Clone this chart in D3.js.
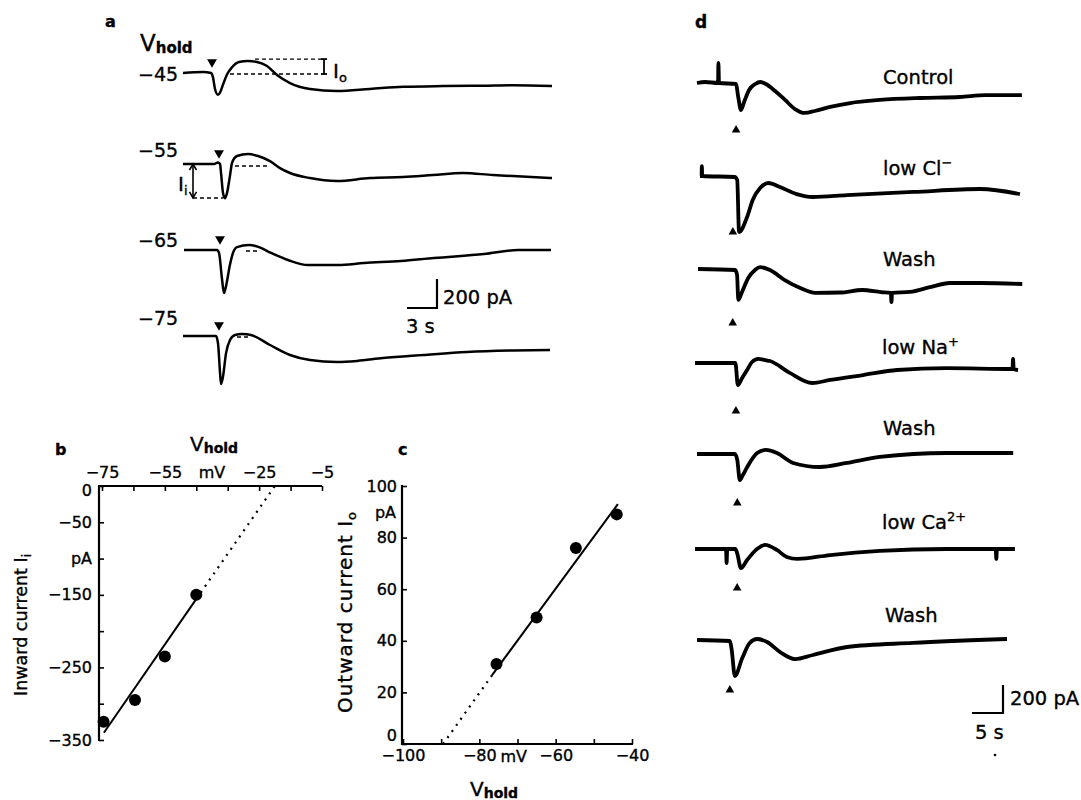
<!DOCTYPE html>
<html><head><meta charset="utf-8">
<script src="https://cdn.jsdelivr.net/npm/d3@7"></script>
<style>
body{margin:0;background:#fff;}
svg text{font-family:"DejaVu Sans",sans-serif;fill:#000;stroke:#000;stroke-width:0.35px;}
</style></head><body>
<svg id="chart" width="1081" height="800"></svg>
<script>
// ---------------- DATA ----------------
// Panel a: holding potentials and current traces [time s, current pA]
const holdLabels = ["−45", "−55", "−65", "−75"];
const traceHold45 = [[0,0],[2.0,7],[2.8,0],[3.0,-30],[3.2,-110],[3.5,-150],[3.7,-135],[4.0,-80],[4.4,-10],[4.9,40],[5.6,76],[6.5,83],[7.4,76],[8.4,48],[9.4,-14],[10.7,-69],[12.7,-110],[15.4,-124],[18.7,-110],[22,-95],[26,-90],[30,-88],[33,-85],[36.9,-90]];
const traceHold55 = [[0,0],[3.1,0],[3.5,10],[3.7,0],[3.8,-60],[4.0,-200],[4.2,-236],[4.4,-200],[4.7,-80],[4.9,7],[5.4,55],[6.5,69],[7.5,55],[8.7,20],[9.7,-28],[10.7,-62],[12.7,-97],[15.4,-117],[18.7,-97],[22,-90],[25,-76],[28,-62],[31,-76],[33,-83],[36.9,-97]];
const traceHold65 = [[0,0],[3.3,0],[3.5,-20],[3.8,-200],[4.0,-297],[4.2,-250],[4.6,-100],[4.9,-20],[5.3,20],[6.5,35],[7.5,20],[8.7,-20],[10.4,-69],[12.4,-104],[15.4,-104],[18,-90],[21.7,-76],[25,-55],[30,-28],[33.4,0],[36.7,0]];
const traceHold75 = [[0,0],[3.3,0],[3.5,-50],[3.7,-250],[3.8,-331],[4.0,-280],[4.3,-120],[4.7,-28],[5.2,7],[5.9,14],[6.8,7],[8.7,-62],[10.7,-131],[12.7,-166],[15.4,-179],[17.4,-172],[20,-152],[24,-131],[28.4,-110],[33,-100],[36.7,-97]];
const stimTimesA = [2.9, 3.6, 3.6, 3.6];
// dashed reference levels [tStart, tEnd, pA]
const dashesHold45 = [[7.2,13.9,96],[4.7,13.9,-7]];
const dashesHold55 = [[5.2,8.7,-14],[1.0,4.0,-234]];
const dashesHold65 = [[6.2,7.5,-7]];
const dashesHold75 = [[5.4,6.7,-7]];
const ioBracket = [14.1, -7, 96];   // time, low, high (pA)
const iiArrow = [1.0, -234, 0];     // time, low, high (pA)
const scaleBarA = [3, 200];         // s, pA

// Panel b: inward current vs V_hold
const bVhold = [-74.5, -64.5, -55, -45];
const bInward = [-325, -295, -235, -150];
const bFitSolid = [[-74.4,-340],[-43.6,-147]];
const bFitDotted = [[-43.6,-147],[-20,0]];
const bXTicks = [-75,-65,-55,-45,-35,-25,-15,-5];
const bXTickLabels = {"-75":"−75","-55":"−55","-25":"−25","-5":"−5"};
const bYTicks = [0,-50,-100,-150,-200,-250,-300,-350];
const bYTickLabels = {"0":"0","-50":"−50","-100":"pA","-150":"−150","-250":"−250","-350":"−350"};

// Panel c: outward current vs V_hold
const cVhold = [-75.5, -65, -54.7, -44];
const cOutward = [31, 49, 76, 89];
const cFitSolid = [[-76.7,26.6],[-43.7,93]];
const cFitDotted = [[-89.5,0],[-76.7,26.6]];
const cXTicks = [-100,-90,-80,-70,-60,-50,-40];
const cXTickLabels = {"-100":"−100","-80":"−80","-60":"−60","-40":"−40"};
const cYTicks = [0,20,40,60,80,100];

// Panel d: conditions and traces [time s, current pA]
const dConditions = [["Control",""],["low Cl","−"],["Wash",""],["low Na","+"],["Wash",""],["low Ca","2+"],["Wash",""]];
const dControl = [[0,0],[1.3,7],[3.4,0],[3.45,143],[3.55,0],[6.3,-7],[6.6,-86],[7.1,-193],[7.6,-136],[8.4,-50],[9.4,-7],[10.2,7],[11.1,-7],[12.6,-57],[14.2,-121],[15.8,-186],[17.4,-214],[19.0,-200],[21.5,-171],[24.7,-143],[29.5,-121],[36.0,-107],[42.4,-100],[46.5,-86],[52.4,-86]];
const dLowCl = [[0,0],[0.25,0],[0.3,71],[0.35,0],[5.6,-7],[6.0,-29],[6.3,-400],[7.6,-293],[8.5,-171],[9.7,-86],[11.0,-50],[12.9,-79],[15.6,-129],[18.2,-150],[23.7,-136],[34.4,-114],[45.2,-93],[51.6,-129]];
const dWash1 = [[0,0],[6.0,-7],[6.3,-43],[6.5,-221],[7.1,-164],[8.1,-64],[9.2,-7],[10.0,14],[11.6,-7],[14.0,-79],[16.5,-136],[18.9,-170],[22.9,-168],[26.5,-150],[29.5,-165],[31.1,-171],[31.2,-236],[31.3,-171],[34.2,-164],[37.4,-130],[40.6,-100],[45.5,-100],[52.3,-107]];
const dLowNa = [[0,0],[6.5,0],[6.6,-21],[6.9,-157],[7.6,-107],[8.4,-50],[9.2,7],[10.2,29],[11.3,21],[12.1,14],[15.3,-71],[18.9,-143],[21.8,-121],[27.1,-86],[32.6,-50],[40.6,-36],[51.2,-43],[51.3,29],[51.4,-43],[52.1,-50]];
const dWash2 = [[0,0],[6.1,0],[6.5,-43],[6.9,-186],[7.4,-150],[8.1,-93],[9.7,7],[11.1,29],[12.9,7],[15.5,-64],[19.8,-93],[24.2,-64],[29.5,-21],[40.3,7],[51.0,7]];
const dLowCa = [[0,0],[5.0,0],[5.1,-100],[5.2,0],[6.5,0],[6.8,-29],[7.4,-136],[8.4,-79],[10.0,0],[11.3,29],[13.2,-7],[14.8,-57],[16.5,-71],[21.8,-43],[29.8,-14],[40.6,0],[48.5,0],[48.6,-71],[48.7,0],[51.6,0]];
const dWash3 = [[0,0],[5.3,-7],[5.6,-71],[6.1,-257],[7.3,-129],[8.5,-21],[9.7,7],[11.3,-14],[13.4,-86],[15.8,-136],[18.7,-107],[24.2,-50],[34.8,-21],[50.0,7]];
const stimTimesD = [6.3, 5.3, 5.6, 6.6, 6.5, 6.8, 5.3];
const scaleBarD = [5, 200];

// ---------------- LAYOUT ----------------
const svg = d3.select("#chart");
const FONT = '"DejaVu Sans", sans-serif';

function label(g, x, y, txt, size, opts = {}) {
  const t = g.append("text").attr("x", x).attr("y", y)
    .attr("font-size", size).text(txt);
  if (opts.anchor) t.attr("text-anchor", opts.anchor);
  if (opts.bold) t.attr("font-weight", "bold");
  return t;
}
function vhold(g, x, y, vSize, hSize) {
  const t = g.append("text").attr("x", x).attr("y", y);
  t.append("tspan").attr("font-size", vSize).text("V");
  t.append("tspan").attr("font-size", hSize).attr("font-weight", "bold").attr("dy", 2).text("hold");
  return t;
}

// ===== Panel a =====
const gA = svg.append("g");
label(gA, 105, 27, "a", 16, {bold: true});
vhold(gA, 140, 51, 23, 15);

const xA = d3.scaleLinear().domain([0, 37]).range([0, 370]);
const yA = d3.scaleLinear().domain([0, 200]).range([0, -29]);
const lineA = d3.line().x(d => xA(d[0])).y(d => yA(d[1])).curve(d3.curveMonotoneX);
const tracesA = [traceHold45, traceHold55, traceHold65, traceHold75];
const dashesA = [dashesHold45, dashesHold55, dashesHold65, dashesHold75];
const originA = [[183,73],[183,164],[184,250],[183,336]];
const holdLabelY = [81, 157, 247, 325];

tracesA.forEach((tr, i) => {
  const g = gA.append("g").attr("transform", `translate(${originA[i][0]},${originA[i][1]})`);
  g.append("path").datum(tr).attr("d", lineA)
    .attr("fill", "none").attr("stroke", "#000").attr("stroke-width", 2.5)
    .attr("stroke-linejoin", "round");
  g.selectAll("line.dash").data(dashesA[i]).join("line")
    .attr("x1", d => xA(d[0])).attr("x2", d => xA(d[1]))
    .attr("y1", d => yA(d[2])).attr("y2", d => yA(d[2]))
    .attr("stroke", "#000").attr("stroke-width", 1.4).attr("stroke-dasharray", "4,3");
  g.append("path")
    .attr("d", d3.symbol(d3.symbolTriangle, 42)())
    .attr("transform", `translate(${xA(stimTimesA[i])},${-11}) rotate(180)`)
    .attr("fill", "#000");
  label(gA, 138, holdLabelY[i], holdLabels[i], 19);
});

// Io bracket
{
  const g = gA.append("g").attr("transform", `translate(${originA[0][0]},${originA[0][1]})`);
  const bx = xA(ioBracket[0]);
  const y1 = yA(ioBracket[1]), y2 = yA(ioBracket[2]);
  g.append("line").attr("x1", bx).attr("x2", bx).attr("y1", y1).attr("y2", y2).attr("stroke", "#000").attr("stroke-width", 1.8);
  [y1, y2].forEach(y => g.append("line").attr("x1", bx - 3).attr("x2", bx + 3).attr("y1", y).attr("y2", y).attr("stroke", "#000").attr("stroke-width", 1.8));
  const t = g.append("text").attr("x", bx + 9).attr("y", 5).attr("font-size", 20);
  t.append("tspan").text("I");
  t.append("tspan").attr("font-size", 13).attr("dy", 4).text("o");
}
// Ii arrow
{
  const g = gA.append("g").attr("transform", `translate(${originA[1][0]},${originA[1][1]})`);
  const ax = xA(iiArrow[0]);
  const y1 = yA(iiArrow[1]), y2 = yA(iiArrow[2]);
  g.append("line").attr("x1", ax).attr("x2", ax).attr("y1", y1).attr("y2", y2).attr("stroke", "#000").attr("stroke-width", 1.6);
  g.append("path").attr("d", `M${ax-3.5},${y2+6}L${ax},${y2}L${ax+3.5},${y2+6}`).attr("fill", "none").attr("stroke", "#000").attr("stroke-width", 1.6);
  g.append("path").attr("d", `M${ax-3.5},${y1-6}L${ax},${y1}L${ax+3.5},${y1-6}`).attr("fill", "none").attr("stroke", "#000").attr("stroke-width", 1.6);
  const t = g.append("text").attr("x", -5).attr("y", 27).attr("font-size", 20);
  t.append("tspan").text("I");
  t.append("tspan").attr("font-size", 13).attr("dy", 4).text("i");
}
// scale bar a
{
  const cx = 437, cy = 308;
  gA.append("path")
    .attr("d", `M${cx - xA(scaleBarA[0])},${cy}L${cx},${cy}L${cx},${cy + yA(scaleBarA[1])}`)
    .attr("fill", "none").attr("stroke", "#000").attr("stroke-width", 2.2);
  label(gA, 443, 304, "200 pA", 19.5);
  label(gA, 406, 333, "3 s", 19.5);
}

// ===== Panel b =====
const gB = svg.append("g");
label(gB, 55, 455, "b", 16, {bold: true});
vhold(gB, 190, 451, 20, 14);
const xB = d3.scaleLinear().domain([-75, -5]).range([102, 322]);
const yB = d3.scaleLinear().domain([0, -350]).range([486, 740]);

const axTopB = gB.append("g").attr("transform", "translate(0,486)")
  .call(d3.axisTop(xB).tickValues(bXTicks).tickSizeInner(-5).tickSizeOuter(0).tickPadding(8)
    .tickFormat(d => bXTickLabels[String(d)] || ""));
const axLeftB = gB.append("g").attr("transform", "translate(99,0)")
  .call(d3.axisLeft(yB).tickValues(bYTicks).tickSizeInner(-5).tickSizeOuter(0).tickPadding(7)
    .tickFormat(d => bYTickLabels[String(d)] || ""));
[axTopB, axLeftB].forEach(ax => {
  ax.attr("font-family", null).attr("font-size", null);
  ax.select(".domain").remove();
  ax.selectAll("text").attr("font-size", 16).attr("font-family", FONT);
  ax.selectAll(".tick line").attr("stroke-width", 1.6);
});
axLeftB.selectAll(".tick text").filter(d => d === 0).attr("dy", "0.62em");
gB.append("line").attr("x1", 99).attr("x2", 322).attr("y1", 486).attr("y2", 486).attr("stroke", "#000").attr("stroke-width", 2.2);
gB.append("line").attr("x1", 99).attr("x2", 99).attr("y1", 485).attr("y2", 741).attr("stroke", "#000").attr("stroke-width", 2.2);
label(gB, xB(-40), 478, "mV", 16, {anchor: "middle"});

const lineB = d3.line().x(d => xB(d[0])).y(d => yB(d[1]));
gB.append("path").datum(bFitSolid).attr("d", lineB).attr("stroke", "#000").attr("stroke-width", 2).attr("fill", "none");
gB.append("path").datum(bFitDotted).attr("d", lineB).attr("stroke", "#000").attr("stroke-width", 2.2).attr("stroke-dasharray", "2,5.5").attr("fill", "none");
gB.selectAll("circle.pt").data(bVhold).join("circle")
  .attr("cx", d => xB(d)).attr("cy", (d, i) => yB(bInward[i])).attr("r", 6).attr("fill", "#000");
{
  const t = gB.append("text").attr("transform", "translate(27,625) rotate(-90)")
    .attr("text-anchor", "middle").attr("font-size", 17.5);
  t.append("tspan").text("Inward current I");
  t.append("tspan").attr("font-size", 12).attr("dy", 4).text("i");
}

// ===== Panel c =====
const gC = svg.append("g");
label(gC, 398, 455, "c", 16, {bold: true});
vhold(gC, 470, 796, 20, 14);
const xC = d3.scaleLinear().domain([-100, -40]).range([403, 632]);
const yC = d3.scaleLinear().domain([0, 100]).range([744, 486]);
const axBotC = gC.append("g").attr("transform", "translate(0,744)")
  .call(d3.axisBottom(xC).tickValues(cXTicks).tickSizeInner(-5).tickSizeOuter(0).tickPadding(6)
    .tickFormat(d => cXTickLabels[String(d)] || ""));
const axLeftC = gC.append("g").attr("transform", "translate(402,0)")
  .call(d3.axisLeft(yC).tickValues(cYTicks).tickSizeInner(-5).tickSizeOuter(0).tickPadding(5)
    .tickFormat(d3.format("d")));
[axBotC, axLeftC].forEach(ax => {
  ax.attr("font-family", null).attr("font-size", null);
  ax.select(".domain").remove();
  ax.selectAll("text").attr("font-size", 16).attr("font-family", FONT);
  ax.selectAll(".tick line").attr("stroke-width", 1.6);
});
axLeftC.selectAll(".tick text").filter(d => d === 0).attr("dy", "-0.2em");
gC.append("line").attr("x1", 401).attr("x2", 633).attr("y1", 744).attr("y2", 744).attr("stroke", "#000").attr("stroke-width", 2.2);
gC.append("line").attr("x1", 402).attr("x2", 402).attr("y1", 485).attr("y2", 745).attr("stroke", "#000").attr("stroke-width", 2.2);
label(gC, xC(-71), 762, "mV", 16, {anchor: "middle"});
label(gC, 396, yC(90) + 6, "pA", 16, {anchor: "end"});

const lineC = d3.line().x(d => xC(d[0])).y(d => yC(d[1]));
gC.append("path").datum(cFitSolid).attr("d", lineC).attr("stroke", "#000").attr("stroke-width", 2).attr("fill", "none");
gC.append("path").datum(cFitDotted).attr("d", lineC).attr("stroke", "#000").attr("stroke-width", 2.2).attr("stroke-dasharray", "2,5.5").attr("fill", "none");
gC.selectAll("circle.pt").data(cVhold).join("circle")
  .attr("cx", d => xC(d)).attr("cy", (d, i) => yC(cOutward[i])).attr("r", 6).attr("fill", "#000");
{
  const t = gC.append("text").attr("transform", "translate(352,612) rotate(-90)")
    .attr("text-anchor", "middle").attr("font-size", 20).attr("letter-spacing", 1);
  t.append("tspan").text("Outward current I");
  t.append("tspan").attr("font-size", 13).attr("dy", 4).text("o");
}

// ===== Panel d =====
const gD = svg.append("g");
label(gD, 695, 28, "d", 17, {bold: true});
const xD = d3.scaleLinear().domain([0, 5]).range([0, 31]);
const yD = d3.scaleLinear().domain([0, 200]).range([0, -28]);
const lineD = d3.line().x(d => xD(d[0])).y(d => yD(d[1])).curve(d3.curveMonotoneX);
const tracesD = [dControl, dLowCl, dWash1, dLowNa, dWash2, dLowCa, dWash3];
const originD = [[697,83],[700,176],[698,269],[695,363],[697,454],[695,549],[697,640]];
const markerOffsetD = [47, 56, 54, 48, 49, 39, 50];
const labelPosD = [[883,84],[883,175],[883,266],[882,354],[883,435],[882,529],[885,622]];

tracesD.forEach((tr, i) => {
  const g = gD.append("g").attr("transform", `translate(${originD[i][0]},${originD[i][1]})`);
  g.append("path").datum(tr).attr("d", lineD)
    .attr("fill", "none").attr("stroke", "#000").attr("stroke-width", 3.8)
    .attr("stroke-linejoin", "round");
  g.append("path")
    .attr("d", d3.symbol(d3.symbolTriangle, 32)())
    .attr("transform", `translate(${xD(stimTimesD[i])},${markerOffsetD[i]})`)
    .attr("fill", "#000");
  const t = gD.append("text").attr("x", labelPosD[i][0]).attr("y", labelPosD[i][1]).attr("font-size", 19.5);
  t.append("tspan").text(dConditions[i][0]);
  if (dConditions[i][1]) t.append("tspan").attr("font-size", 13).attr("dy", -8).text(dConditions[i][1]);
});
{
  const cx = 1003, cy = 713;
  gD.append("path")
    .attr("d", `M${cx - xD(scaleBarD[0])},${cy}L${cx},${cy}L${cx},${cy + yD(scaleBarD[1])}`)
    .attr("fill", "none").attr("stroke", "#000").attr("stroke-width", 2.2);
  label(gD, 1010, 705, "200 pA", 19.5);
  label(gD, 975, 739, "5 s", 19.5);
  gD.append("circle").attr("cx", 995).attr("cy", 755).attr("r", 1.3).attr("fill", "#000");
}
</script>
</body></html>
